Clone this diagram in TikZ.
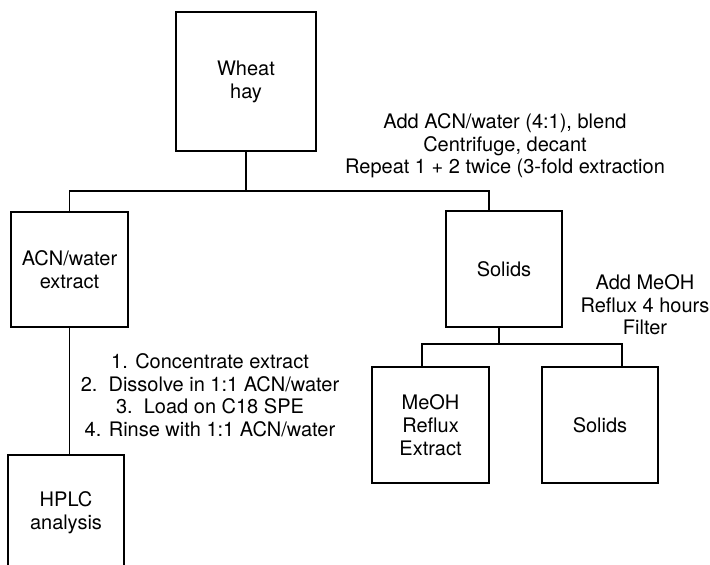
\documentclass[tikz,border=0pt]{standalone}
\usepackage{fontspec}
\setmainfont{TeX Gyre Heros}
\begin{document}
\begin{tikzpicture}[x=1pt,y=-1pt,
  box/.style={draw, line width=1.2pt, inner sep=0pt, align=center, font=\fontsize{20}{23}\selectfont},
  note/.style={inner sep=0pt, align=center, font=\fontsize{20}{22.5}\selectfont},
  link/.style={line width=1.2pt}]
\useasboundingbox (0,0) rectangle (710,565);
\clip (0,0) rectangle (710,565);
\fill[white] (0,0) rectangle (710,565);
% boxes
\node[box, minimum width=140pt, minimum height=139pt] (wheat) at (246,81.5) {Wheat\\hay};
\node[box, minimum width=117pt, minimum height=115pt] (acn) at (69.5,269.5) {ACN/water\\extract};
\node[box, minimum width=116pt, minimum height=116pt] (solids1) at (504,269) {Solids};
\node[box, minimum width=117pt, minimum height=116pt] (meoh) at (430.5,425) {MeOH\\Reflux\\Extract};
\node[box, minimum width=116pt, minimum height=116pt] (solids2) at (600,425) {Solids};
\node[box, minimum width=116pt, minimum height=115pt] (hplc) at (66,512.5) {HPLC\\analysis};
% notes
\node[note] (n1) at (505,146) {Add ACN/water (4:1), blend\\Centrifuge, decant\\Repeat 1 + 2 twice (3-fold extraction};
\node[note] (n2) at (645,305) {Add MeOH\\Reflux 4 hours\\Filter};
\node[note] (n3) at (210,395) {1. Concentrate extract\\2.\ \ Dissolve in 1:1 ACN/water\\3.\ \ Load on C18 SPE\\4. Rinse with 1:1 ACN/water};
% connectors
\coordinate (j1) at (246,191);
\coordinate (j2) at (499,344);
\draw[link] (wheat.south) -- (j1);
\draw[link] (acn.north) |- (j1) -| ([xshift=-15pt]solids1.north);
\draw[link] ([xshift=-5pt]solids1.south) -- (j2);
\draw[link] ([xshift=-8.5pt]meoh.north) |- (j2) -| ([xshift=22pt]solids2.north);
\draw[link] (acn.south) -- (acn.south |- hplc.north);
\end{tikzpicture}
\end{document}
